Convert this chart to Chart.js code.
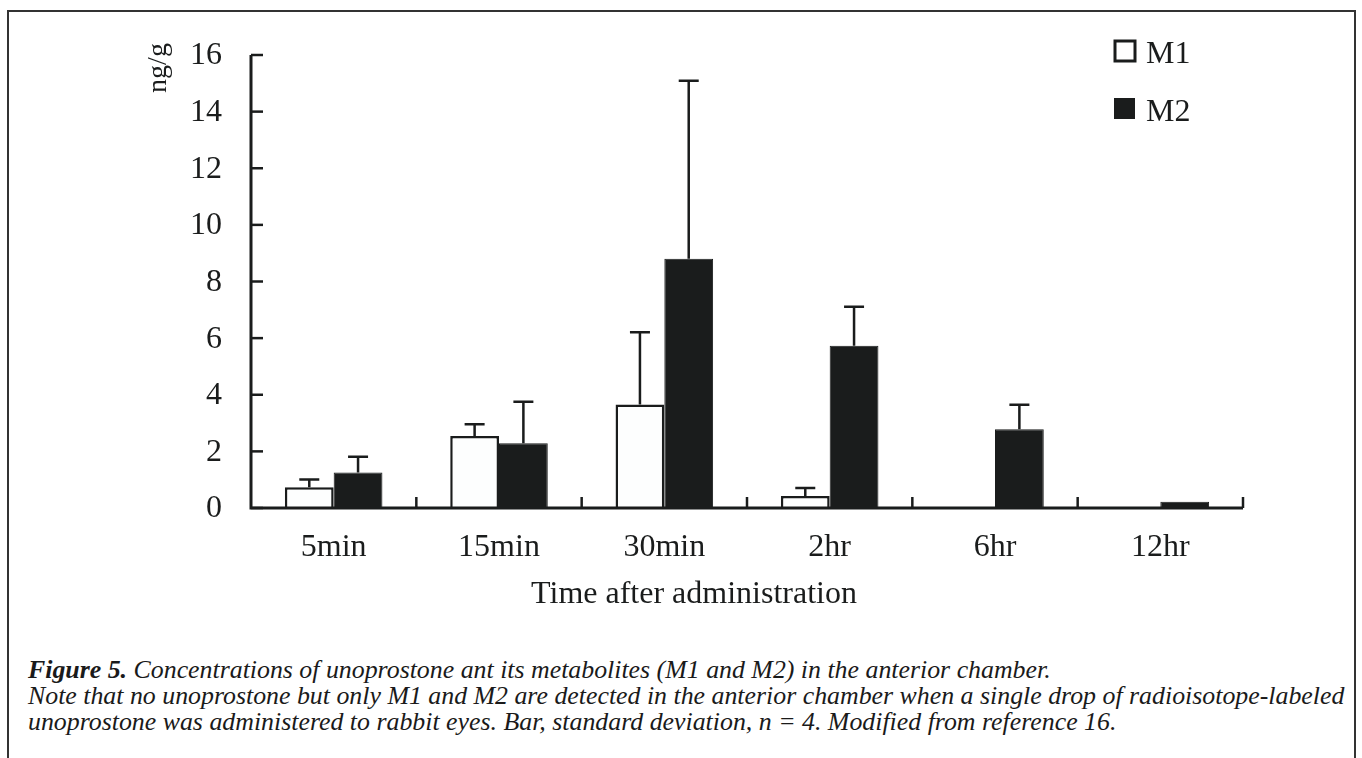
<!DOCTYPE html>
<html>
<head>
<meta charset="utf-8">
<script src="https://cdn.jsdelivr.net/npm/chart.js@4/dist/chart.umd.min.js"></script>
<style>
  html, body { margin: 0; padding: 0; background: #fff; }
  body { width: 1362px; height: 758px; position: relative; overflow: hidden; }
  #frame {
    position: absolute; left: 7px; top: 10px; width: 1349px; height: 800px;
    border: 2px solid #333; box-sizing: border-box;
  }
  #chart { position: absolute; left: 0; top: 0; }
  .cap {
    position: absolute; left: 28px; white-space: nowrap;
    font-family: "Liberation Serif", "Times New Roman", serif;
    font-style: italic; font-size: 26px; line-height: 26px; color: #1a1a1a;
    transform-origin: 0 0;
  }
  .cap b { font-weight: bold; }
</style>
</head>
<body>
<div id="frame"></div>
<canvas id="chart" width="1362" height="640"></canvas>
<div class="cap" style="top:657px"><b>Figure 5.</b> Concentrations of unoprostone ant its metabolites (M1 and M2) in the anterior chamber.</div>
<div class="cap" id="capRef" style="top:683px">Note that no unoprostone but only M1 and M2 are detected in the anterior chamber when a single drop of radioisotope-labeled</div>
<div class="cap" style="top:709px">unoprostone was administered to rabbit eyes. Bar, standard deviation, n = 4. Modified from reference 16.</div>
<script>
// data (ng/g)
const timePoints = ["5min", "15min", "30min", "2hr", "6hr", "12hr"];
const m1Mean = [0.73, 2.54, 3.66, 0.42, 0, 0];
const m1Sd   = [0.28, 0.42, 2.55, 0.29, 0, 0];
const m2Mean = [1.25, 2.29, 8.80, 5.73, 2.78, 0.22];
const m2Sd   = [0.56, 1.46, 6.29, 1.38, 0.87, 0];
const yTicks = [0, 2, 4, 6, 8, 10, 12, 14, 16];

const ink = "#1a1c1c";
const serif = '"Liberation Serif", "Times New Roman", serif';

// axes, error bars, legend and labels drawn on top of the library's scales
const decor = {
    id: "decor",
    afterDatasetsDraw(chart) {
        const ctx = chart.ctx;
        const x = chart.scales.x, y = chart.scales.y;
        const area = chart.chartArea;
        const catW = x.getPixelForValue(1) - x.getPixelForValue(0);

        ctx.save();
        ctx.strokeStyle = ink;
        ctx.fillStyle = ink;
        ctx.lineWidth = 2.5;

        // error bars (upper only)
        chart.data.datasets.forEach((ds, di) => {
            const meta = chart.getDatasetMeta(di);
            meta.data.forEach((bar, i) => {
                const sd = ds.sd[i];
                if (!sd) return;
                const top = y.getPixelForValue(ds.data[i] + sd);
                const base = y.getPixelForValue(ds.data[i]);
                ctx.beginPath();
                ctx.moveTo(bar.x, base);
                ctx.lineTo(bar.x, top);
                ctx.moveTo(bar.x - 10, top);
                ctx.lineTo(bar.x + 10, top);
                ctx.stroke();
            });
        });

        // axis lines
        const y0 = y.getPixelForValue(0);
        const left = area.left, right = area.right;
        ctx.lineWidth = 3;
        ctx.beginPath();
        ctx.moveTo(left, y.getPixelForValue(16));
        ctx.lineTo(left, y0);
        ctx.lineTo(right, y0);
        ctx.stroke();

        // y ticks (inside)
        ctx.lineWidth = 2.5;
        ctx.font = "32px " + serif;
        ctx.textAlign = "right";
        ctx.textBaseline = "middle";
        yTicks.forEach(v => {
            const py = y.getPixelForValue(v);
            ctx.beginPath();
            ctx.moveTo(left, py);
            ctx.lineTo(left + 12, py);
            ctx.stroke();
            ctx.fillText(String(v), left - 29, py + 1);
        });

        // x ticks at category boundaries (inside)
        for (let i = 1; i <= timePoints.length; i++) {
            const px = x.getPixelForValue(i - 1) + catW / 2;
            ctx.beginPath();
            ctx.moveTo(px, y0);
            ctx.lineTo(px, y0 - 11);
            ctx.stroke();
        }

        // category labels
        ctx.textAlign = "center";
        ctx.textBaseline = "alphabetic";
        timePoints.forEach((t, i) => {
            ctx.fillText(t, x.getPixelForValue(i), 556);
        });

        // axis titles
        ctx.fillText("Time after administration", 694, 603);
        ctx.save();
        ctx.translate(166, 68);
        ctx.rotate(-Math.PI / 2);
        ctx.textAlign = "center";
        ctx.font = "28px " + serif;
        ctx.fillText("ng/g", 0, 0);
        ctx.restore();

        // legend
        ctx.textAlign = "left";
        ctx.font = "32px " + serif;
        ctx.lineWidth = 3;
        ctx.fillStyle = "#fff";
        ctx.fillRect(1115, 41, 20, 20);
        ctx.strokeRect(1115, 41, 20, 20);
        ctx.fillStyle = ink;
        ctx.fillText(chart.data.datasets[0].label, 1146, 63);
        ctx.fillRect(1114, 98, 21, 21);
        ctx.fillText(chart.data.datasets[1].label, 1146, 121);

        ctx.restore();
    }
};

new Chart(document.getElementById("chart"), {
    type: "bar",
    data: {
        labels: timePoints,
        datasets: [
            { label: "M1", data: m1Mean, sd: m1Sd, backgroundColor: "#fdfefe", borderColor: ink, borderWidth: 2.5 },
            { label: "M2", data: m2Mean, sd: m2Sd, backgroundColor: ink, borderColor: ink, borderWidth: 1 }
        ]
    },
    options: {
        responsive: false,
        animation: false,
        devicePixelRatio: 1,
        layout: { padding: { left: 251, right: 119, top: 55, bottom: 132 } },
        categoryPercentage: 0.59,
        barPercentage: 1.0,
        plugins: { legend: { display: false }, tooltip: { enabled: false } },
        scales: {
            x: { display: false },
            y: { display: false, min: 0, max: 16 }
        }
    },
    plugins: [decor]
});

// one common horizontal scale for the caption, set by the longest line
const refLine = document.getElementById("capRef");
const capScale = 1316 / refLine.scrollWidth;
document.querySelectorAll(".cap").forEach(el => {
    el.style.transform = "scaleX(" + capScale + ")";
});
</script>
</body>
</html>
